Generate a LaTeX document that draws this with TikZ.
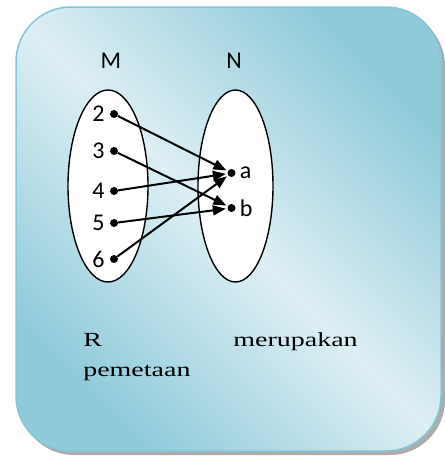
\documentclass[tikz,border=0pt]{standalone}
\usepackage{fontspec}
\setmainfont{Liberation Serif}
\newfontfamily\calfont{Carlito}
\usetikzlibrary{arrows.meta,shapes.geometric}

\definecolor{boxdark}{HTML}{8FCADA}
\definecolor{boxlight}{HTML}{DDEFF4}
\definecolor{boxedge}{HTML}{86C5D6}

\tikzset{
  dot/.style={circle, fill=black, inner sep=0pt, minimum size=8pt},
  setlbl/.style={font=\calfont\fontsize{24}{26}\selectfont, inner sep=1pt},
  maparrow/.style={-{Triangle[length=13pt,width=10pt]}, line width=2pt, shorten >=1.5pt},
  setoval/.style={ellipse, draw=black, line width=1.4pt, fill=white, inner sep=0pt},
  bodytxt/.style={font=\fontsize{20}{24}\selectfont, inner sep=0pt, xscale=1.4},
}

\begin{document}
\begin{tikzpicture}[x=1pt, y=-1pt]
  \useasboundingbox (0,0) rectangle (445,456);

  % ── Kotak latar ────────────────────────────────
  \fill[gray!65, rounded corners=55pt] (19,11) rectangle (445,455);
  \shade[rounded corners=55pt, top color=boxdark, bottom color=boxdark,
         middle color=boxlight, shading angle=-45] (16,7) rectangle (441,451);
  \draw[boxedge, line width=1.5pt, rounded corners=55pt] (16,7) rectangle (441,451);

  % ── Himpunan M dan N ───────────────────────────
  \node[setoval, minimum width=80pt, minimum height=192pt] (setM) at (108,186) {};
  \node[setoval, minimum width=75pt, minimum height=192pt] (setN) at (235.5,186) {};
  \node[setlbl] (lblM) at (111,61) {M};
  \node[setlbl] (lblN) at (234,61) {N};

  \foreach \n/\yy in {2/114,3/151,4/191,5/223,6/259}{
    \node[dot, label={[setlbl, label distance=4pt]left:\n}] (m\n) at (114,\yy) {};
  }
  \node[dot, label={[setlbl, label distance=3pt]right:a}] (na) at (231.5,173) {};
  \node[dot, label={[setlbl, label distance=3pt]right:b}] (nb) at (231.5,208) {};

  % ── Relasi R ───────────────────────────────────
  \draw[maparrow] (m2) -- (na);
  \draw[maparrow] (m3) -- (nb);
  \draw[maparrow] (m4) -- (na);
  \draw[maparrow] (m5) -- (nb);
  \draw[maparrow] (m6) -- (na);

  % ── Keterangan ─────────────────────────────────
  \node[bodytxt, anchor=base west] (txtR) at (83,346) {R};
  \node[bodytxt, anchor=base east] (txtMer) at (358,346) {merupakan};
  \node[bodytxt, anchor=base west] (txtPem) at (83,376) {pemetaan};
\end{tikzpicture}
\end{document}
